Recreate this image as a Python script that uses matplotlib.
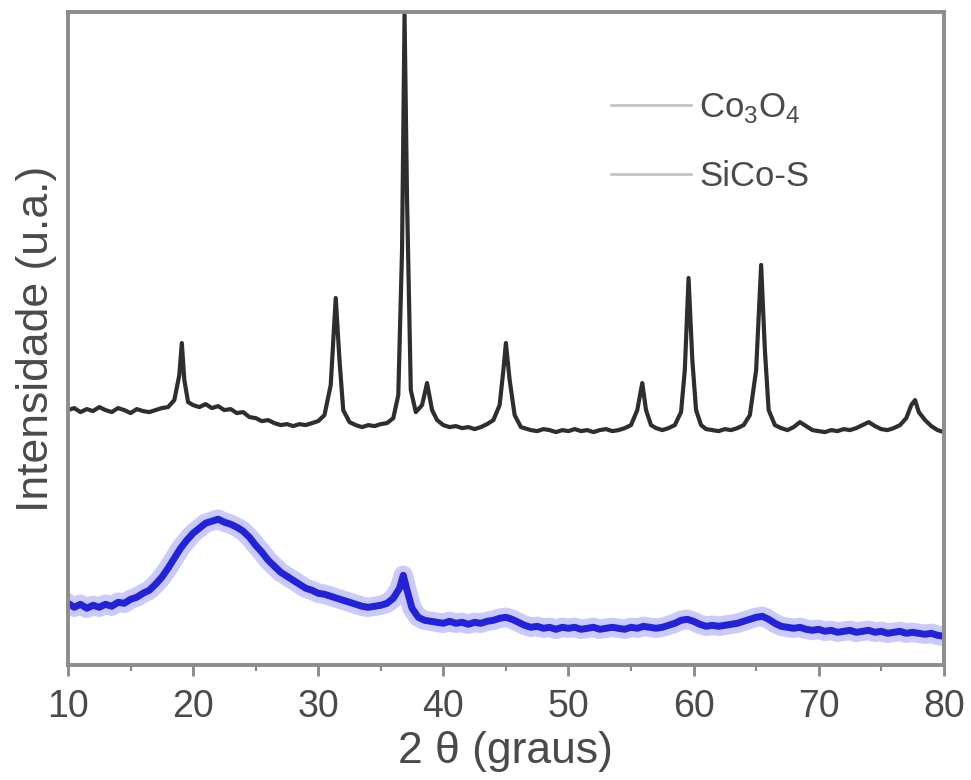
import matplotlib.pyplot as plt
from matplotlib.lines import Line2D
from matplotlib import font_manager

# nomes das fontes
nomes = {f.name for f in font_manager.fontManager.ttflist}
fonte = 'Liberation Sans Narrow' if 'Liberation Sans Narrow' in nomes else 'Liberation Sans'
plt.rcParams['font.family'] = [fonte, 'DejaVu Sans']
plt.rcParams['mathtext.fontset'] = 'custom'
plt.rcParams['mathtext.rm'] = fonte

# Co3O4 (2 theta, intensidade u.a.)
theta_co = [10.0, 10.5, 11, 11.5, 12, 12.5, 13, 13.5, 14, 14.5, 15, 15.5, 16, 16.5, 17, 17.5, 18,
            18.5, 18.9, 19.1, 19.3, 19.6, 20, 20.5, 21, 21.5, 22, 22.5, 23, 23.5, 24, 24.5, 25,
            25.5, 26, 26.5, 27, 27.5, 28, 28.5, 29, 29.5, 30, 30.5, 31.0, 31.4, 31.7, 32.0, 32.5,
            33, 33.5, 34, 34.5, 35, 35.5, 36, 36.4, 36.7, 36.9, 37.1, 37.4, 37.8, 38.3, 38.7, 39.1,
            39.5, 40, 40.5, 41, 41.5, 42, 42.5, 43, 43.5, 44, 44.5, 44.8, 45.0, 45.3, 45.7, 46.2,
            47, 47.5, 48, 48.5, 49, 49.5, 50, 50.5, 51, 51.5, 52, 52.5, 53, 53.5, 54, 54.5, 55,
            55.5, 55.9, 56.2, 56.6, 57, 57.5, 58, 58.5, 59, 59.3, 59.6, 59.9, 60.2, 60.6, 61, 61.5,
            62, 62.5, 63, 63.5, 64, 64.5, 65.0, 65.4, 65.7, 66.0, 66.5, 67, 67.5, 68, 68.5, 69,
            69.5, 70, 70.5, 71, 71.5, 72, 72.5, 73, 73.5, 74, 74.5, 75, 75.5, 76, 76.5, 77, 77.4,
            77.7, 78, 78.5, 79, 79.5, 80]
int_co = [255, 257, 253, 256, 254, 258, 255, 253, 257, 255, 252, 256, 254, 253, 255, 257, 258,
          265, 290, 322, 285, 263, 260, 258, 261, 257, 259, 255, 256, 252, 253, 248, 247,
          244, 245, 242, 240, 241, 239, 241, 240, 242, 244, 250, 280, 367, 305, 255, 243,
          240, 238, 240, 239, 241, 242, 247, 270, 415, 650, 465, 275, 253, 260, 282, 255,
          245, 240, 238, 239, 237, 238, 236, 238, 241, 245, 260, 295, 322, 285, 250, 238,
          235, 234, 236, 235, 233, 235, 234, 236, 234, 235, 233, 235, 236, 234, 235, 237, 240,
          255, 282, 255, 240, 237, 235, 237, 240, 253, 295, 387, 305, 255, 240, 236, 235,
          234, 236, 235, 237, 240, 250, 295, 400, 315, 255, 240, 237, 235, 238, 243, 239,
          235, 234, 233, 235, 234, 236, 235, 237, 240, 243, 239, 236, 235, 237, 240, 247, 260,
          265, 253, 245, 239, 235, 233]

# SiCo-S
theta_si = [10, 10.5, 11, 11.5, 12, 12.5, 13, 13.5, 14, 14.5, 15, 15.5, 16, 16.5, 17, 17.5, 18,
            18.5, 19, 19.5, 20, 20.5, 21, 21.5, 22, 22.5, 23, 23.5, 24, 24.5, 25, 25.5, 26, 26.5,
            27, 27.5, 28, 28.5, 29, 29.5, 30, 30.5, 31, 31.5, 32, 32.5, 33, 33.5, 34, 34.5, 35,
            35.5, 36, 36.5, 36.8, 37.1, 37.5, 38, 38.5, 39, 39.5, 40, 40.5, 41, 41.5, 42, 42.5,
            43, 43.5, 44, 44.5, 45, 45.5, 46, 46.5, 47, 47.5, 48, 48.5, 49, 49.5, 50, 50.5, 51,
            51.5, 52, 52.5, 53, 53.5, 54, 54.5, 55, 55.5, 56, 56.5, 57, 57.5, 58, 58.5, 59, 59.5,
            60, 60.5, 61, 61.5, 62, 62.5, 63, 63.5, 64, 64.5, 65, 65.5, 66, 66.5, 67, 67.5, 68,
            68.5, 69, 69.5, 70, 70.5, 71, 71.5, 72, 72.5, 73, 73.5, 74, 74.5, 75, 75.5, 76, 76.5,
            77, 77.5, 78, 78.5, 79, 79.5, 80]
int_si = [62, 58, 61, 57, 60, 58, 61, 59, 63, 62, 66, 68, 72, 75, 81, 88, 97,
          107, 117, 125, 132, 137, 142, 144, 146, 143, 141, 138, 134, 128, 120, 113, 105, 99,
          93, 89, 85, 81, 77, 75, 72, 71, 69, 67, 65, 63, 61, 59, 58, 59, 60,
          62, 67, 77, 90, 75, 57, 48, 45, 44, 43, 42, 44, 42, 43, 41, 43,
          42, 44, 45, 47, 48, 46, 43, 40, 38, 39, 37, 38, 36, 38, 37, 38, 36,
          37, 38, 36, 37, 38, 37, 36, 38, 37, 39, 38, 37, 38, 40, 42, 45, 46,
          44, 41, 39, 40, 39, 40, 41, 42, 44, 46, 48, 49, 46, 42, 39, 38, 37,
          38, 36, 35, 36, 34, 35, 33, 34, 35, 33, 34, 35, 33, 34, 32, 33, 34,
          32, 33, 32, 31, 32, 30, 29]

legendas = ['Co$_3$O$_4$', 'SiCo-S']
xticks = [10, 20, 30, 40, 50, 60, 70, 80]

cinza_txt = '#4a4a4a'
fig = plt.figure(figsize=(9.71, 7.8), dpi=100)
ax = fig.add_axes([0.070, 0.147, 0.902, 0.838])

ax.plot(theta_si, int_si, color='#8a8aff', lw=14, alpha=0.45, solid_joinstyle='round')
ax.plot(theta_si, int_si, color='#2222d8', lw=5)
ax.plot(theta_co, int_co, color='#2e2e2e', lw=3)

ax.set_xlim(10, 80)
ax.set_ylim(0, 653)
ax.set_xticks(xticks)
ax.set_xticks(range(15, 80, 10), minor=True)
ax.set_yticks([])
ax.tick_params(axis='x', which='major', direction='out', length=8, width=2, color='#888888',
               labelsize=27, labelcolor=cinza_txt, pad=9)
ax.tick_params(axis='x', which='minor', direction='out', length=4, width=1.5, color='#888888')
for s in ax.spines.values():
    s.set_color('#8c8c8c')
    s.set_linewidth(2.8)

ax.set_xlabel('2 θ (graus)', fontsize=32, color=cinza_txt, labelpad=4)
ax.set_ylabel('Intensidade (u.a.)', fontsize=32, color=cinza_txt, labelpad=8)

alcas = [Line2D([], [], color='#c4c4c4', lw=2), Line2D([], [], color='#c4c4c4', lw=2)]
ax.legend(alcas, legendas, loc='upper left', bbox_to_anchor=(0.6, 0.905), frameon=False,
          fontsize=25, labelcolor=cinza_txt, handlelength=2.3, handletextpad=0.25,
          labelspacing=1.0, borderpad=0)

fig.savefig('out.png', dpi=100)
